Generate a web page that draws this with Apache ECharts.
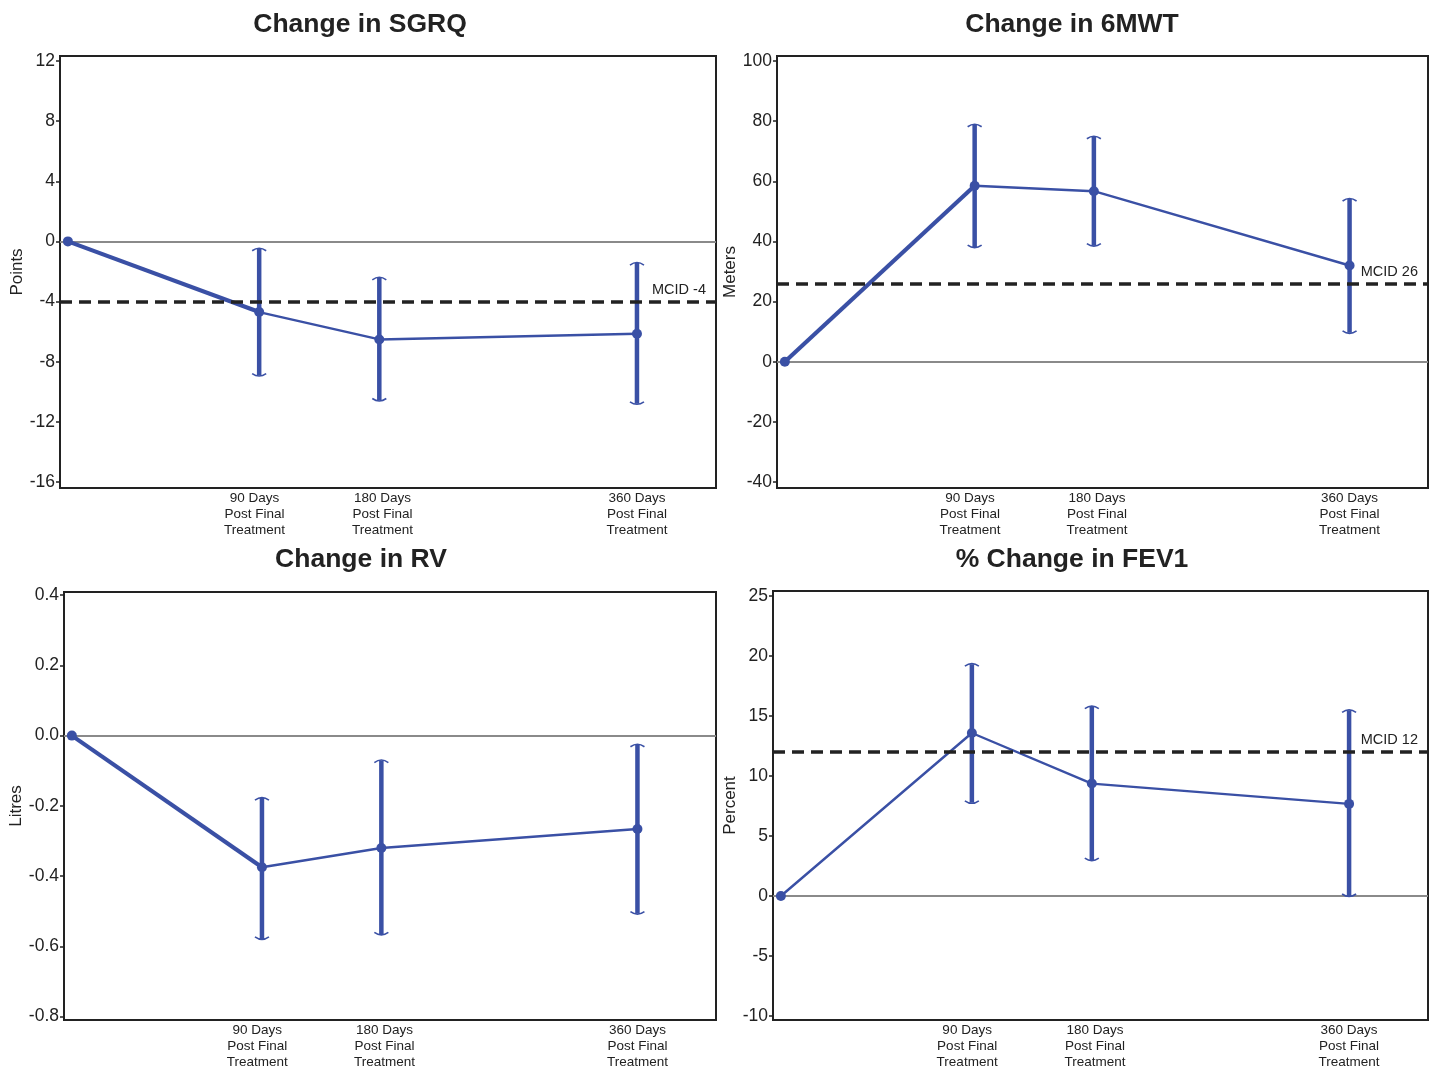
<!DOCTYPE html>
<html>
<head>
<meta charset="utf-8">
<script src="https://cdn.jsdelivr.net/npm/echarts@6/dist/echarts.min.js"></script>
<style>
html,body{margin:0;padding:0;background:#fff;}
#c{width:1434px;height:1070px;}
</style>
</head>
<body>
<div id="c"></div>
<script>
// ---------- data ----------
const xDays = [0, 121, 197, 360];
const xTickPos = [118, 199, 360];
const xTickLabels = ['90 Days\nPost Final\nTreatment', '180 Days\nPost Final\nTreatment', '360 Days\nPost Final\nTreatment'];

const titles = ['Change in SGRQ', 'Change in 6MWT', 'Change in RV', '% Change in FEV1'];
const yNames = ['Points', 'Meters', 'Litres', 'Percent'];

const sgrqMean  = [0, -4.7, -6.52, -6.14];
const sgrqLower = [null, -8.92, -10.58, -10.8];
const sgrqUpper = [null, -0.49, -2.42, -1.44];
const sgrqTicks = [-16, -12, -8, -4, 0, 4, 8, 12];
const sgrqMcid = -4;

const mwtMean  = [0, 58.5, 56.7, 32.0];
const mwtLower = [null, 38.1, 38.6, 9.6];
const mwtUpper = [null, 78.8, 74.8, 54.1];
const mwtTicks = [-40, -20, 0, 20, 40, 60, 80, 100];
const mwtMcid = 26;

const rvMean  = [0, -0.375, -0.32, -0.266];
const rvLower = [null, -0.579, -0.566, -0.507];
const rvUpper = [null, -0.178, -0.071, -0.026];
const rvTicks = [-0.8, -0.6, -0.4, -0.2, 0.0, 0.2, 0.4];

const fevMean  = [0, 13.57, 9.36, 7.67];
const fevLower = [null, 7.76, 2.98, 0.0];
const fevUpper = [null, 19.3, 15.76, 15.45];
const fevTicks = [-10, -5, 0, 5, 10, 15, 20, 25];
const fevMcid = 12;

// ---------- styling / layout ----------
const BLUE = '#3a50a5';
const INK = '#222222';
const FONT = '"Liberation Sans", Arial, sans-serif';

const grids = [
  {left: 60,  top: 56,  width: 656, height: 432},
  {left: 777, top: 56,  width: 651, height: 432},
  {left: 64,  top: 592, width: 652, height: 429},
  {left: 773, top: 591, width: 655, height: 430}
];
const yRanges = [[-16.4, 12.33], [-42, 101.66], [-0.81, 0.409], [-10.32, 25.39]];
const titlePos = [[355, 6], [1067, 6], [356, 541], [1067, 541]];
const nameGaps = [30, 34, 34, 30];

const panels = [
  {mean: sgrqMean, lower: sgrqLower, upper: sgrqUpper, ticks: sgrqTicks, mcid: sgrqMcid, dec: 0, thickFirst: true},
  {mean: mwtMean, lower: mwtLower, upper: mwtUpper, ticks: mwtTicks, mcid: mwtMcid, dec: 0, thickFirst: true},
  {mean: rvMean, lower: rvLower, upper: rvUpper, ticks: rvTicks, mcid: null, dec: 1, thickFirst: true},
  {mean: fevMean, lower: fevLower, upper: fevUpper, ticks: fevTicks, mcid: fevMcid, dec: 0, thickFirst: false}
];

function renderErr(params, api) {
  const x = api.value(0), lo = api.value(1), hi = api.value(2);
  const pH = api.coord([x, hi]);
  const pL = api.coord([x, lo]);
  const w = 7, c = 3;
  return {
    type: 'group',
    children: [
      {type: 'line', shape: {x1: pH[0], y1: pH[1], x2: pL[0], y2: pL[1]},
       style: {stroke: BLUE, lineWidth: 4.5}},
      {type: 'bezierCurve', shape: {x1: pH[0] - w, y1: pH[1] + 2, x2: pH[0] + w, y2: pH[1] + 2, cpx1: pH[0], cpy1: pH[1] - c},
       style: {stroke: BLUE, lineWidth: 1.6, fill: null}},
      {type: 'bezierCurve', shape: {x1: pL[0] - w, y1: pL[1] - 2, x2: pL[0] + w, y2: pL[1] - 2, cpx1: pL[0], cpy1: pL[1] + c},
       style: {stroke: BLUE, lineWidth: 1.6, fill: null}}
    ]
  };
}

const option = {
  backgroundColor: '#fff',
  animation: false,
  textStyle: {fontFamily: FONT},
  title: titles.map((t, i) => ({
    text: t, left: titlePos[i][0], top: titlePos[i][1], textAlign: 'center',
    textStyle: {fontFamily: FONT, fontSize: 26.5, fontWeight: 'bold', color: INK}
  })),
  grid: grids.map(g => Object.assign({show: true, borderColor: INK, borderWidth: 2, backgroundColor: '#fff'}, g)),
  xAxis: grids.map((g, i) => ({
    type: 'value', gridIndex: i, min: -5, max: 410, position: 'bottom',
    axisLine: {show: true, onZero: false, lineStyle: {color: INK, width: 2}},
    axisTick: {show: false},
    splitLine: {show: false},
    axisLabel: {
      customValues: xTickPos,
      formatter: v => xTickLabels[xTickPos.indexOf(v)] || '',
      fontFamily: FONT, fontSize: 13.5, lineHeight: 16, color: INK, margin: 2
    }
  })),
  yAxis: panels.map((p, i) => ({
    type: 'value', gridIndex: i, min: yRanges[i][0], max: yRanges[i][1], position: 'left',
    name: yNames[i], nameLocation: 'middle', nameRotate: 90,
    nameGap: nameGaps[i],
    nameTextStyle: {fontFamily: FONT, fontSize: 17, color: INK},
    axisLine: {show: true, onZero: false, lineStyle: {color: INK, width: 2}},
    axisTick: {show: true, customValues: p.ticks, length: 4, lineStyle: {color: INK, width: 1.5}},
    splitLine: {show: false},
    axisLabel: {
      customValues: p.ticks,
      formatter: v => Number(v).toFixed(p.dec),
      fontFamily: FONT, fontSize: 17.5, color: INK, margin: 5
    }
  })),
  series: []
};

panels.forEach((p, i) => {
  const lineData = xDays.map((x, k) => [x, p.mean[k]]);
  const errData = [];
  xDays.forEach((x, k) => { if (p.lower[k] !== null) errData.push([x, p.lower[k], p.upper[k]]); });

  // zero reference line + main mean line
  option.series.push({
    type: 'line', xAxisIndex: i, yAxisIndex: i, z: 2,
    data: lineData,
    symbol: 'circle', symbolSize: 10,
    itemStyle: {color: BLUE},
    lineStyle: {color: BLUE, width: 2.4},
    markLine: {
      silent: true, symbol: 'none', z: 1,
      label: {show: false},
      lineStyle: {color: '#8a8a8a', width: 2, type: 'solid'},
      data: [{yAxis: 0}]
    }
  });
  if (p.thickFirst) {
    option.series.push({
      type: 'line', xAxisIndex: i, yAxisIndex: i, z: 2,
      data: lineData.slice(0, 2), symbol: 'none',
      lineStyle: {color: BLUE, width: 4.2}
    });
  }
  const err = {
    type: 'custom', xAxisIndex: i, yAxisIndex: i, z: 3,
    data: errData, renderItem: renderErr,
    encode: {x: 0, y: [1, 2]}
  };
  if (p.mcid !== null) {
    err.markLine = {
      silent: true, symbol: 'none',
      lineStyle: {color: INK, width: 3.5, type: [12, 7]},
      label: {
        show: true, position: 'insideEndTop', formatter: 'MCID ' + p.mcid,
        fontFamily: FONT, fontSize: 14.5, color: INK, distance: [10, 4]
      },
      data: [{yAxis: p.mcid}]
    };
  }
  option.series.push(err);
});

const chart = echarts.init(document.getElementById('c'), null, {renderer: 'canvas'});
chart.setOption(option);
</script>
</body>
</html>
